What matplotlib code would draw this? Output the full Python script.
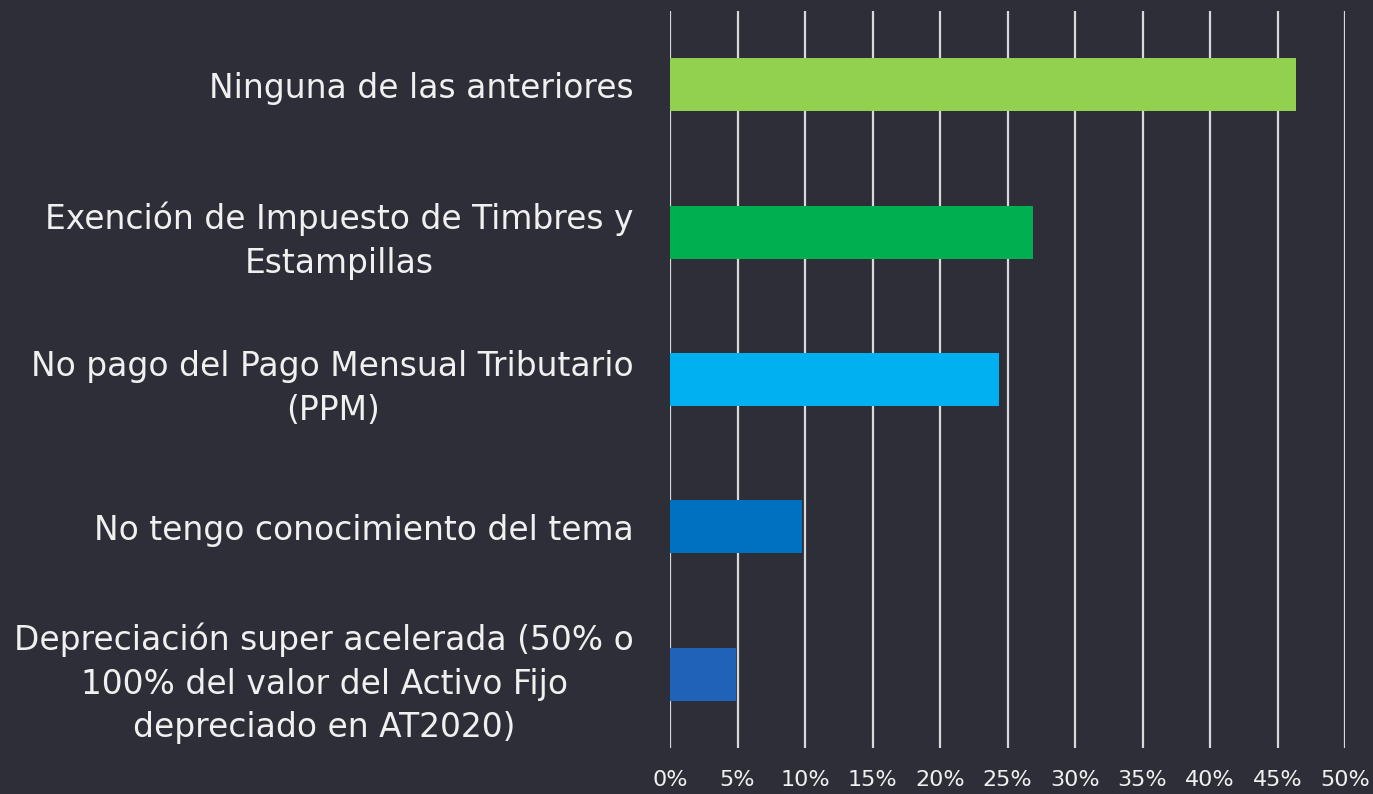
import numpy as np
import matplotlib
matplotlib.use("Agg")
import matplotlib.pyplot as plt

# data (top to bottom as shown)
categories = [
    "Ninguna de las anteriores",
    "Exención de Impuesto de Timbres y\nEstampillas",
    "No pago del Pago Mensual Tributario\n(PPM)",
    "No tengo conocimiento del tema",
    "Depreciación super acelerada (50% o\n100% del valor del Activo Fijo\ndepreciado en AT2020)",
]
values = [46.4, 26.9, 24.4, 9.8, 4.9]
bar_colors = ["#92d050", "#00b050", "#00b0f0", "#0070c0", "#1f63b8"]
ticks = list(range(0, 55, 5))

bg = "#2e2e38"
txt = "#f0f0f0"

fig = plt.figure(figsize=(13.73, 7.94), dpi=100, facecolor=bg)
ax = fig.add_axes([670 / 1373, 1 - 748 / 794, 675 / 1373, 737 / 794])
ax.set_facecolor(bg)

y = np.arange(len(categories))
ax.barh(y, values, height=0.36, color=bar_colors, zorder=3)
ax.set_ylim(len(categories) - 0.5, -0.5)
ax.set_xlim(0, 50)

ax.set_xticks(ticks)
ax.set_xticklabels([f"{t}%" for t in ticks], fontsize=16, color=txt)
ax.set_yticks(y)
ax.set_yticklabels(categories, fontsize=23.7, color=txt, ha="right",
                   multialignment="center", linespacing=1.42)
ax.tick_params(axis="y", length=0, pad=26)
ax.tick_params(axis="x", length=0, pad=16)

ax.grid(axis="x", color="#d9d9d9", linewidth=1.6, zorder=1)
for s in ax.spines.values():
    s.set_visible(False)

fig.savefig("out.png", dpi=100, facecolor=bg)
